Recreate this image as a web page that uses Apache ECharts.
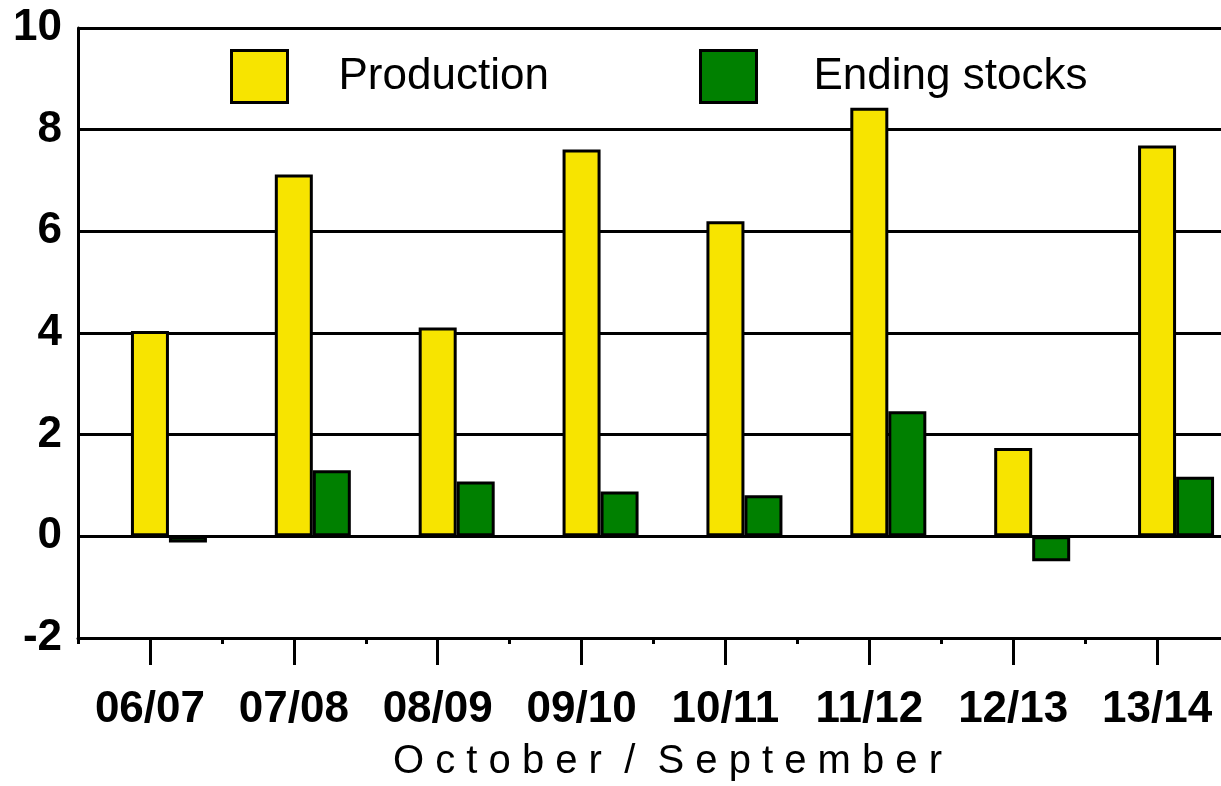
<!DOCTYPE html>
<html>
<head>
<meta charset="utf-8">
<script src="https://cdn.jsdelivr.net/npm/echarts@6/dist/echarts.min.js"></script>
<style>html,body{margin:0;padding:0;background:#fff;}#chart{width:1221px;height:786px;}</style>
</head>
<body>
<div id="chart"></div>
<script>
const categories = ['06/07', '07/08', '08/09', '09/10', '10/11', '11/12', '12/13', '13/14'];
const production = [4.04, 7.12, 4.11, 7.61, 6.2, 8.43, 1.74, 7.69];
const endingStocks = [-0.12, 1.3, 1.08, 0.88, 0.81, 2.46, -0.49, 1.17];
const yTicks = { min: -2, max: 10, interval: 2 };
const axisTitle = 'O c t o b e r  /  S e p t e m b e r';

const FONT = '"Liberation Sans", Arial, sans-serif';
const chart = echarts.init(document.getElementById('chart'), null, { renderer: 'canvas' });
const barStyle = (c) => ({ color: c, borderColor: '#000', borderWidth: 3 });
const legendItem = { borderColor: '#000', borderWidth: 3 };
chart.setOption({
  animation: false,
  backgroundColor: '#fff',
  textStyle: { fontFamily: FONT },
  grid: { left: 78, top: 28, bottom: 148, width: 1151, outerBoundsMode: 'none', containLabel: false },
  legend: [
    { data: ['Production'], left: 225, top: 44, itemWidth: 56, itemHeight: 52, icon: 'rect', itemStyle: legendItem,
      textStyle: { fontSize: 44, color: '#000', fontFamily: FONT, padding: [0, 0, 0, 46] } },
    { data: ['Ending stocks'], left: 694, top: 44, itemWidth: 56, itemHeight: 52, icon: 'rect', itemStyle: legendItem,
      textStyle: { fontSize: 44, color: '#000', fontFamily: FONT, padding: [0, 0, 0, 52] } }
  ],
  xAxis: [
    { type: 'category', data: categories, position: 'bottom',
      axisLine: { show: true, lineStyle: { color: '#000', width: 3 }, onZero: false },
      axisTick: { show: true, alignWithLabel: true, interval: 0, length: 27, lineStyle: { color: '#000', width: 3 } },
      axisLabel: { interval: 0, fontSize: 44, fontWeight: 'bold', color: '#000', margin: 50, fontFamily: FONT },
      name: axisTitle, nameLocation: 'middle', nameGap: 104,
      nameTextStyle: { fontSize: 40, color: '#000', fontFamily: FONT, padding: [0, 0, 0, 28] } },
    { type: 'category', data: categories, position: 'bottom',
      axisLine: { show: false, onZero: false }, axisLabel: { show: false },
      axisTick: { show: true, interval: 0, length: 6, lineStyle: { color: '#000', width: 3 } } }
  ],
  yAxis: {
    type: 'value', min: yTicks.min, max: yTicks.max, interval: yTicks.interval,
    axisLine: { show: true, lineStyle: { color: '#000', width: 3 } },
    axisTick: { show: false },
    axisLabel: { fontSize: 44, fontWeight: 'bold', color: '#000', margin: 16, fontFamily: FONT },
    splitLine: { lineStyle: { color: '#000', width: 3 } }
  },
  series: [
    { name: 'spacer', type: 'bar', data: categories.map(() => null), barWidth: 38, barGap: '0%', itemStyle: { color: 'transparent' } },
    { name: 'Production', type: 'bar', data: production, barWidth: 38, barGap: '0%', itemStyle: barStyle('#F7E400') },
    { name: 'Ending stocks', type: 'bar', data: endingStocks, barWidth: 38, barGap: '0%', itemStyle: barStyle('#008000') }
  ]
});
</script>
</body>
</html>
